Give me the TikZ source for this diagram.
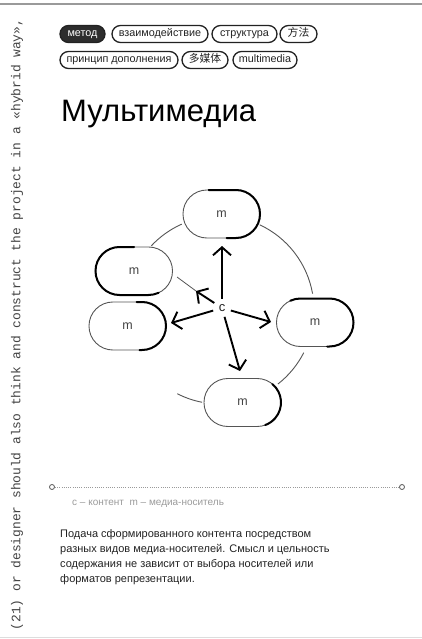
\documentclass[tikz,border=0pt]{standalone}
\usepackage{fontspec}
\setmainfont{Liberation Sans}
\newfontfamily\monof{Liberation Mono}
\newfontfamily\cjk{Noto Sans CJK SC}
\usetikzlibrary{arrows.meta}
\definecolor{ink}{HTML}{222222}
\definecolor{barg}{HTML}{9A9A9A}
\definecolor{lineg}{HTML}{DDDDDD}
\definecolor{midg}{HTML}{555555}
\definecolor{legg}{HTML}{9A9A9A}
\begin{document}
\begin{tikzpicture}[x=1pt,y=1pt,
  tag/.style={draw=ink,line width=1.3pt,rounded corners=8.5pt,minimum height=17pt,inner sep=0pt,text height=7pt,text depth=2pt,font=\fontsize{10.8}{12}\selectfont,text=ink},
  tagdark/.style={tag,fill=ink!95,text=white},
  media/.style={draw=midg,line width=0.9pt,fill=white,rounded corners=23.9pt,minimum width=77pt,minimum height=48pt,inner sep=0pt,font=\fontsize{12.5}{14}\selectfont,text=ink!85},
  thickb/.style={line width=2pt,black,line cap=round},
  arr/.style={line width=1.9pt,black,-{Straight Barb[length=8pt,width=18pt,line width=1.9pt]}},
  circ/.style={line width=0.9pt,midg},
  dotc/.style={circle,draw=midg,line width=0.8pt,minimum size=5pt,inner sep=0pt,fill=white},
  para/.style={anchor=base west,inner sep=0pt,font=\fontsize{11}{15}\selectfont,text=ink}
]
\useasboundingbox (0,0) rectangle (422,-639);
% frame lines
\coordinate (tl) at (0,-4.5); \coordinate (tr) at (422,-4.5);
\draw[barg,line width=2pt] (tl) -- (tr);
\coordinate (bl) at (0,-637.5); \coordinate (br) at (422,-637.5);
\draw[lineg,line width=1pt] (bl) -- (br);
% vertical text
\node[rotate=90,inner sep=0pt,font=\monof\fontsize{12.9}{14}\selectfont,text=ink!85] (vt) at (17,-324.5)
  {(21) or designer should also think and construct the project in a «hybrid way»,};
% tags
\node[tagdark,minimum width=45pt] (t1) at (82.5,-34) {метод};
\node[tag,minimum width=96pt] (t2) at (160,-34) {взаимодействие};
\node[tag,minimum width=65pt] (t3) at (244.5,-34) {структура};
\node[tag,minimum width=37pt] (t4) at (298.5,-34) {\cjk 方法};
\node[tag,minimum width=118pt] (t5) at (119,-60) {принцип дополнения};
\node[tag,minimum width=46pt] (t6) at (205,-60) {\cjk 多媒体};
\node[tag,minimum width=64pt] (t7) at (265,-60) {multimedia};
% title
\node[anchor=base west,inner sep=0pt,font=\fontsize{31}{34}\selectfont,text=black] (title) at (61,-122) {Мультимедиа};
% circle arcs
\coordinate (O) at (220,-310);
\draw[circ] ([shift={(114:94pt)}]O) arc[start angle=114,end angle=137,radius=94pt];
\draw[circ] ([shift={(10:94pt)}]O) arc[start angle=10,end angle=65,radius=94pt];
\draw[circ] ([shift={(-52:94pt)}]O) arc[start angle=-52,end angle=-27,radius=94pt];
\draw[circ] ([shift={(-117:94pt)}]O) arc[start angle=-117,end angle=-101,radius=94pt];
% media nodes
\node[media] (mT) at (221.5,-214) {m};
\node[media] (mLU) at (134,-271) {m};
\node[media] (mLL) at (127.5,-326) {m};
\node[media] (mR) at (315,-322.5) {m};
\node[media] (mB) at (242.5,-402.5) {m};
% thick portions of outlines
\begin{scope}[shift={(mT.center)}]
  \draw[thickb] (-13,24) -- (14.5,24) arc[start angle=90,end angle=-90,radius=24pt] -- (5,-24);
\end{scope}
\begin{scope}[shift={(mLU.center)}]
  \draw[thickb] (0,24) -- (-14.5,24) arc[start angle=90,end angle=270,radius=24pt] -- (14.5,-24) arc[start angle=-90,end angle=-65,radius=24pt];
\end{scope}
\begin{scope}[shift={(mLL.center)}]
  \draw[thickb] (9,24) -- (14.5,24) arc[start angle=90,end angle=-90,radius=24pt] -- (12,-24);
\end{scope}
\begin{scope}[shift={(mR.center)}]
  \draw[thickb] (-14.5,0) ++(115:24pt) arc[start angle=115,end angle=90,radius=24pt] -- (14.5,24) arc[start angle=90,end angle=-90,radius=24pt] -- (12,-24);
\end{scope}
\begin{scope}[shift={(mB.center)}]
  \draw[thickb] (14.5,0) ++(50:24pt) arc[start angle=50,end angle=-70,radius=24pt];
\end{scope}
% content node and arrows
\node[circle,inner sep=0pt,minimum size=18pt,font=\fontsize{13}{14}\selectfont,text=ink] (c) at (222,-308) {c};
\coordinate (aU) at (222,-246);
\coordinate (aL) at (171,-323);
\coordinate (aR) at (271,-322);
\coordinate (aD) at (240,-371);
\coordinate (aUL) at (196,-291);
\coordinate (ulend) at (177,-277);
\draw[arr] (c) -- (aU);
\draw[arr] (c) -- (aL);
\draw[arr] (c) -- (aR);
\draw[arr] (c) -- (aD);
\draw[arr] (c) -- (aUL);
\draw[circ,line width=0.8pt] (aUL) -- (ulend);
% dotted separator
\node[dotc] (d1) at (52,-487) {};
\node[dotc] (d2) at (402,-487) {};
\draw[legg,line width=0.7pt,dash pattern=on 0.7pt off 1.5pt] (d1) -- (d2);
% legend
\node[anchor=west,inner sep=0pt,font=\fontsize{10}{11}\selectfont,text=legg] (leg) at (72,-504) {c – контент\ \ m – медиа-носитель};
% paragraph
\node[para] (p1) at (60,-537.5) {Подача сформированного контента посредством};
\node[para] (p2) at (60,-552.5) {разных видов медиа-носителей. Смысл и цельность};
\node[para] (p3) at (60,-567.5) {содержания не зависит от выбора носителей или};
\node[para] (p4) at (60,-582.5) {форматов репрезентации.};
\end{tikzpicture}
\end{document}
